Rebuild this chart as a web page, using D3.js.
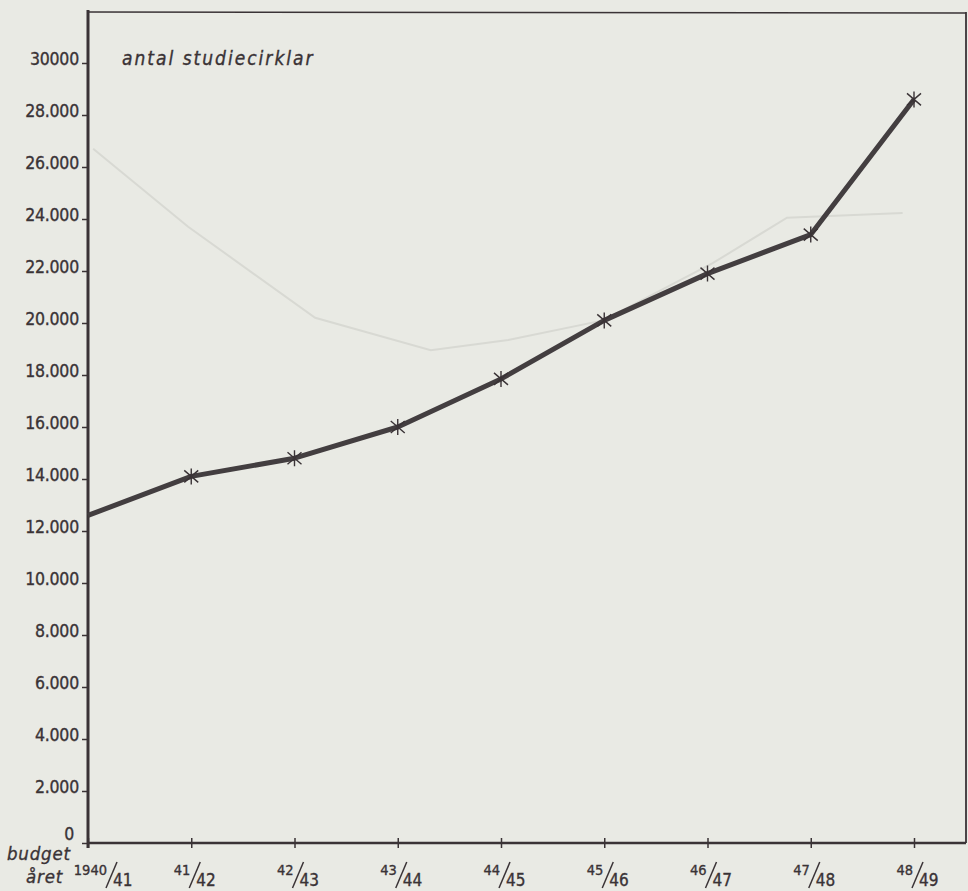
<!DOCTYPE html>
<html>
<head>
<meta charset="utf-8">
<script src="https://cdn.jsdelivr.net/npm/d3@7"></script>
<style>
  body { margin: 0; background: #e9eae4; }
  svg { display: block; }
  .ink { fill: #3a3336; stroke: #3a3336; stroke-width: 0.35px; font-family: "DejaVu Sans Condensed", "DejaVu Sans", sans-serif; }
</style>
</head>
<body>
<script>
// budget years and number of study circles
var years = ["1940/41", "41/42", "42/43", "43/44", "44/45", "45/46", "46/47", "47/48", "48/49"];
var circles = [12600, 14100, 14800, 16000, 17850, 20100, 21900, 23400, 28600];

var yTicks = [0, 2000, 4000, 6000, 8000, 10000, 12000, 14000, 16000, 18000, 20000, 22000, 24000, 26000, 28000, 30000];
var yTickLabels = ["0", "2.000", "4.000", "6.000", "8.000", "10.000", "12.000", "14.000", "16.000", "18.000", "20.000", "22.000", "24.000", "26.000", "28.000", "30000"];

// faint curve showing through from the reverse page: [year index, value]
var showThrough = [[0.05, 26700], [0.97, 23700], [2.2, 20200], [3.32, 18950], [4.07, 19350], [4.99, 20100], [6.05, 22300], [6.77, 24050], [7.89, 24230]];

var width = 968, height = 891;
var plotLeft = 88, plotRight = 966, plotTop = 12, plotBottom = 843;

var svg = d3.select("body").append("svg")
    .attr("width", width)
    .attr("height", height);

var x = d3.scalePoint()
    .domain(years)
    .range([plotLeft, 914]);

var xi = d3.scaleLinear()
    .domain([0, years.length - 1])
    .range([plotLeft, 914]);

var y = d3.scaleLinear()
    .domain([0, 30000])
    .range([plotBottom, 63]);

var ink = "#3a3336";

// show-through line
svg.append("path")
    .datum(showThrough)
    .attr("fill", "none")
    .attr("stroke", "#d8d9d3")
    .attr("stroke-width", 2)
    .attr("d", d3.line()
      .x(function(d) { return xi(d[0]); })
      .y(function(d) { return y(d[1]); }));

// frame
svg.append("line")
    .attr("x1", plotLeft).attr("x2", plotRight)
    .attr("y1", plotTop).attr("y2", plotTop + 1)
    .attr("stroke", ink).attr("stroke-width", 1.6);
svg.append("line")
    .attr("x1", plotRight).attr("x2", plotRight)
    .attr("y1", plotTop).attr("y2", plotBottom)
    .attr("stroke", ink).attr("stroke-width", 1.8);

// y axis
var yAxis = d3.axisLeft(y)
    .tickValues(yTicks)
    .tickSize(6)
    .tickPadding(3)
    .tickFormat(function(d, i) { return yTickLabels[i]; });

var gy = svg.append("g")
    .attr("transform", "translate(" + plotLeft + ",0)")
    .call(yAxis);
gy.select(".domain").remove();
gy.selectAll("line").attr("stroke", ink).attr("stroke-width", 1.5);
gy.selectAll("text")
    .attr("class", "ink")
    .attr("dy", function(d) { return d === 0 ? -4 : 1; })
    .attr("x", function(d) { return d === 0 ? -14 : -9; })
    .style("font-size", "17.5px")
    .style("letter-spacing", "-0.2px");

svg.append("line")
    .attr("x1", plotLeft).attr("x2", plotLeft)
    .attr("y1", plotTop - 2).attr("y2", plotBottom + 5)
    .attr("stroke", ink).attr("stroke-width", 3);

// x axis
var xAxis = d3.axisBottom(x).tickSize(5).tickFormat("");
var gx = svg.append("g")
    .attr("transform", "translate(0," + plotBottom + ")")
    .call(xAxis);
gx.select(".domain").remove();
gx.selectAll("line").attr("y1", -5).attr("stroke", ink).attr("stroke-width", 1.5);

svg.append("line")
    .attr("x1", plotLeft).attr("x2", plotRight)
    .attr("y1", plotBottom).attr("y2", plotBottom)
    .attr("stroke", ink).attr("stroke-width", 2.5);

// fraction style year labels
var xl = svg.append("g").selectAll("g")
    .data(years)
  .enter().append("g")
    .attr("transform", function(d, i) {
      return "translate(" + (x(d) + (i === 0 ? 20 : 0)) + ",0)";
    });

xl.append("text")
    .attr("class", "ink")
    .attr("text-anchor", "end")
    .attr("x", -1)
    .attr("y", 875)
    .style("font-size", "14.5px")
    .text(function(d) { return d.split("/")[0]; });

xl.append("line")
    .attr("x1", -2).attr("y1", 888)
    .attr("x2", 9).attr("y2", 862)
    .attr("stroke", ink)
    .attr("stroke-width", 1.5);

xl.append("text")
    .attr("class", "ink")
    .attr("x", 5)
    .attr("y", 886)
    .style("font-size", "17px")
    .text(function(d) { return d.split("/")[1]; });

// corner caption
svg.append("text")
    .attr("class", "ink")
    .attr("x", 7).attr("y", 860)
    .style("font-size", "18.5px")
    .style("font-style", "italic")
    .style("letter-spacing", "0.8px")
    .text("budget");
svg.append("text")
    .attr("class", "ink")
    .attr("x", 26).attr("y", 883)
    .style("font-size", "18.5px")
    .style("font-style", "italic")
    .style("letter-spacing", "0.8px")
    .text("året");

// title
svg.append("text")
    .attr("class", "ink")
    .attr("x", 122).attr("y", 65)
    .style("font-size", "19px")
    .style("font-style", "italic")
    .style("letter-spacing", "2px")
    .text("antal studiecirklar");

// series line
svg.append("path")
    .datum(circles)
    .attr("fill", "none")
    .attr("stroke", "#433e40")
    .attr("stroke-width", 5)
    .attr("stroke-linejoin", "round")
    .attr("d", d3.line()
      .x(function(d, i) { return x(years[i]); })
      .y(function(d) { return y(d); }));

// asterisk markers
var marks = svg.append("g").selectAll("g")
    .data(circles.slice(1))
  .enter().append("g")
    .attr("transform", function(d, i) {
      return "translate(" + x(years[i + 1]) + "," + y(d) + ")";
    });

marks.append("path")
    .attr("d", "M-7,-6L7,6M-7,6L7,-6M0,-8L0,8")
    .attr("stroke", ink)
    .attr("stroke-width", 1.4)
    .attr("fill", "none");
</script>
</body>
</html>
